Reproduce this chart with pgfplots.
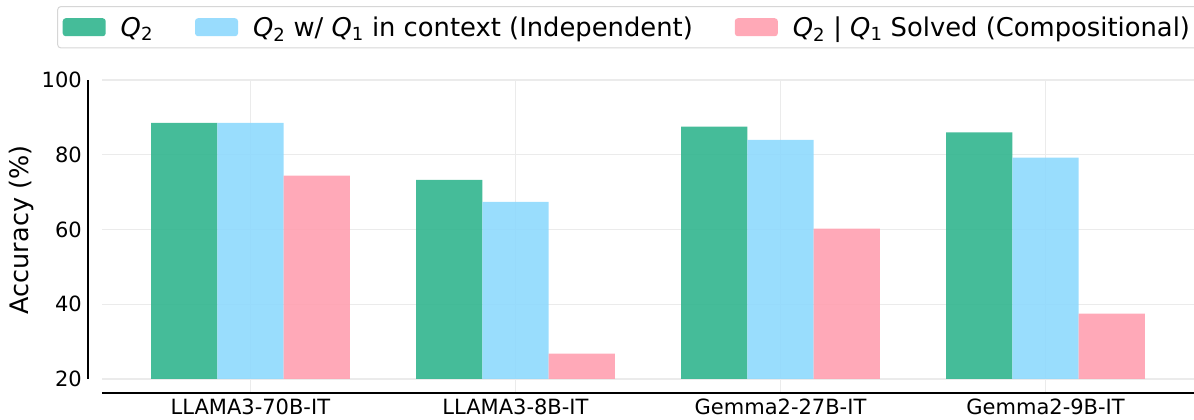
\documentclass[border=0pt]{standalone}
\usepackage{fontspec}
\setmainfont{DejaVu Sans}
\usepackage{pgfplots}
\pgfplotsset{compat=1.18}
\definecolor{cgreen}{RGB}{49,181,142}
\definecolor{cblue}{RGB}{142,217,253}
\definecolor{cpink}{RGB}{255,160,176}
\definecolor{gridc}{RGB}{235,235,235}
\begin{document}
\begin{tikzpicture}
\begin{axis}[
  scale only axis,
  width=1092pt, height=313pt,
  xmin=-0.56, xmax=3.56,
  ymin=-3.75, ymax=80,
  clip=false,
  y filter/.expression={y-20},
  ytick={0,20,40,60,80},
  yticklabels={20,40,60,80,100},
  xtick={0,1,2,3},
  xticklabels={LLAMA3-70B-IT,LLAMA3-8B-IT,Gemma2-27B-IT,Gemma2-9B-IT},
  /pgf/number format/assume math mode=true,
  axis line style={draw=none},
  major tick length=0pt,
  ymajorgrids, xmajorgrids,
  grid style={gridc, line width=1.2pt},
  ticklabel style={font=\fontsize{21}{24}\selectfont},
  yticklabel style={anchor=east, inner sep=0pt, xshift=-20pt},
  xticklabel style={anchor=north, inner sep=0pt, yshift=-6pt},
  ylabel={Accuracy (\%)},
  ylabel style={at={(axis description cs:-0.0733,0.521)}, anchor=center, font=\fontsize{25.5}{28}\selectfont},
  ybar=0pt,
  bar width=0.25,
  legend columns=3,
  legend style={at={(axis description cs:-0.041,1.236)}, anchor=north west,
    draw={rgb,255:red,214;green,214;blue,214}, line width=1pt, rounded corners=3pt,
    font=\fontsize{25.8}{29}\selectfont, inner xsep=5pt, inner ysep=8pt,
    /tikz/every even column/.append style={column sep=40pt}},
  legend image code/.code={\fill[#1] (0pt,-9pt) rectangle (43pt,9pt);},
  legend cell align=left,
]
\addplot[fill=cgreen, draw=none, fill opacity=0.9, bar shift=-0.25] coordinates {(0,88.5) (1,73.3) (2,87.5) (3,86.0)};
\addplot[fill=cblue, draw=none, fill opacity=0.9, bar shift=0] coordinates {(0,88.5) (1,67.4) (2,84.0) (3,79.2)};
\addplot[fill=cpink, draw=none, fill opacity=0.9, bar shift=0.25] coordinates {(0,74.4) (1,26.8) (2,60.2) (3,37.5)};
\legend{\hspace{13pt}{\itshape Q}\textsubscript{2},\hspace{13pt}{\itshape Q}\textsubscript{2} w/ {\itshape Q}\textsubscript{1} in context (Independent),\hspace{13pt}{\itshape Q}\textsubscript{2} | {\itshape Q}\textsubscript{1} Solved (Compositional)}
\coordinate (sw) at (rel axis cs:0,0);
\draw[black, line width=2.6pt] (rel axis cs:0,0) -- (rel axis cs:1,0);
\draw[black, line width=2.6pt] ([xshift=-14pt]rel axis cs:0,0.0448) -- ([xshift=-14pt]rel axis cs:0,1);
\end{axis}
\pgfresetboundingbox
\path[use as bounding box] ([shift={(-102pt,-27pt)}]sw) rectangle ([shift={(1092pt,393pt)}]sw);
\end{tikzpicture}
\end{document}
